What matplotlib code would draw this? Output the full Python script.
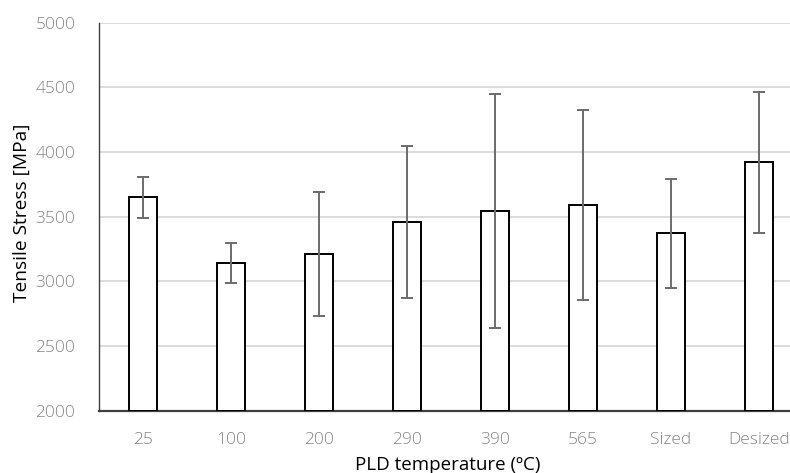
import numpy as np
import matplotlib
matplotlib.use('Agg')
import matplotlib.pyplot as plt

# values
labels = ['25', '100', '200', '290', '390', '565', 'Sized', 'Desized']
stress = [3650, 3140, 3210, 3460, 3545, 3588, 3372, 3920]
err = [160, 155, 480, 585, 905, 735, 420, 545]

fig = plt.figure(figsize=(7.9, 4.73), dpi=100)
ax = fig.add_axes([0.1253, 0.1317, 0.8912, 0.8203])

x = np.arange(len(labels))
ax.bar(x, [s - 2000 for s in stress], bottom=2000, width=0.315,
       color='white', edgecolor='black', linewidth=1.4, zorder=3)
ax.errorbar(x, stress, yerr=err, fmt='none', ecolor='#6b6b6b',
            elinewidth=1.4, capsize=4.5, capthick=1.4, zorder=4)

ax.set_xlim(-0.5, len(labels) - 0.5)
ax.set_ylim(2000, 5000)
ax.set_yticks(np.arange(2000, 5001, 500))
ax.set_xticks(x)
ax.set_xticklabels(labels)

ax.grid(axis='y', color='#d9d9d9', linewidth=1.3, zorder=0)
ax.set_axisbelow(True)
for s in ['top', 'right']:
    ax.spines[s].set_visible(False)
ax.spines['left'].set_color('#404040')
ax.spines['left'].set_linewidth(1.0)
ax.spines['bottom'].set_color('#404040')
ax.spines['bottom'].set_linewidth(1.6)

ax.tick_params(axis='both', length=0, labelsize=12.5, labelcolor='#858585')
ax.tick_params(axis='y', pad=17)
ax.tick_params(axis='x', pad=15)
for t in ax.get_xticklabels() + ax.get_yticklabels():
    t.set_family('Open Sans')
    t.set_fontweight('light')

ax.set_ylabel('Tensile Stress [MPa]', fontsize=13.8, family='Open Sans', va='center')
ax.yaxis.set_label_coords(-0.109, 0.51)
ax.set_xlabel('PLD temperature (ºC)', fontsize=13.5, family='Open Sans', va='center')
ax.xaxis.set_label_coords(0.4955, -0.14)

fig.savefig('out.png', dpi=100)
